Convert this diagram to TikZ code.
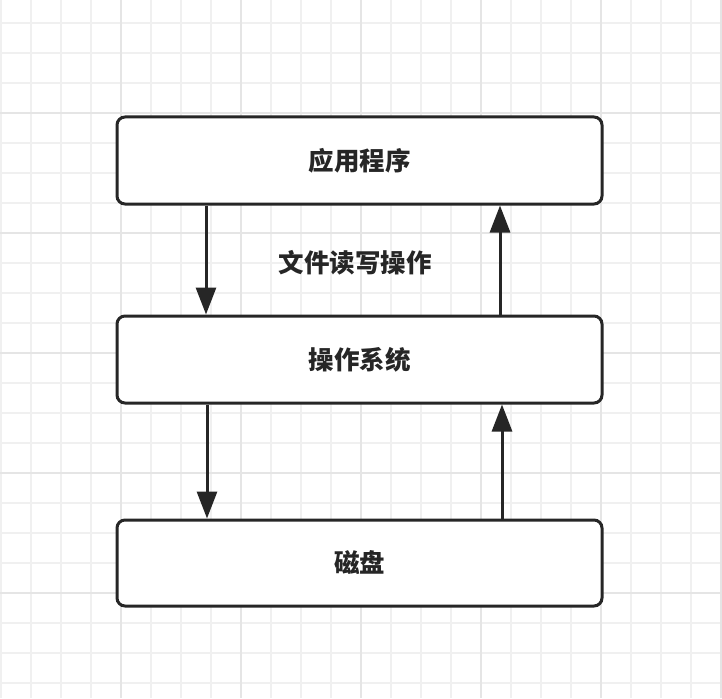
\documentclass[tikz,border=0pt]{standalone}
\usepackage{fontspec}
\setmainfont{Noto Sans CJK SC}
\usetikzlibrary{arrows.meta}

\tikzset{
  layer/.style={draw=black!85, line width=3pt, rounded corners=8pt, fill=white,
    minimum width=485pt, minimum height=87pt, text=black!85,
    font=\fontsize{25.5}{25.5}\selectfont\bfseries},
  flow/.style={line width=3pt, draw=black!85,
    -{Triangle[width=20pt,length=27pt,fill=black!85]}}
}

\begin{document}
\begin{tikzpicture}[x=1pt,y=-1pt]
  \useasboundingbox (0,0) rectangle (722,698);
  % Grid
  \fill[white] (0,0) rectangle (722,698);
  \foreach \gx in {1,31,...,721}
    \draw[line width=1.2pt, black!6] (\gx,0) -- (\gx,698);
  \foreach \gy in {23,53,...,683}
    \draw[line width=1.2pt, black!6] (0,\gy) -- (722,\gy);
  \foreach \gx in {121,241,...,721}
    \draw[line width=1.4pt, black!10] (\gx,0) -- (\gx,698);
  \foreach \gy in {113,233,...,593}
    \draw[line width=1.4pt, black!10] (0,\gy) -- (722,\gy);
  % Layers
  \node[layer] (app) at (359.5,160.5) {应用程序};
  \node[layer] (os) at (359.5,359.5) {操作系统};
  \node[layer, minimum height=86pt] (disk) at (359.5,563) {磁盘};
  % Arrows
  \draw[flow] ([xshift=-153.5pt]app.south) -- ([xshift=-153.5pt]os.north);
  \draw[flow] ([xshift=140.5pt]os.north) -- ([xshift=140.5pt]app.south);
  \draw[flow] ([xshift=-152.5pt]os.south) -- ([xshift=-152.5pt]disk.north);
  \draw[flow] ([xshift=142.5pt]disk.north) -- ([xshift=142.5pt]os.south);
  % Label
  \node[text=black!85, font=\fontsize{25.5}{25.5}\selectfont\bfseries] (rw) at (355,263) {文件读写操作};
\end{tikzpicture}
\end{document}
